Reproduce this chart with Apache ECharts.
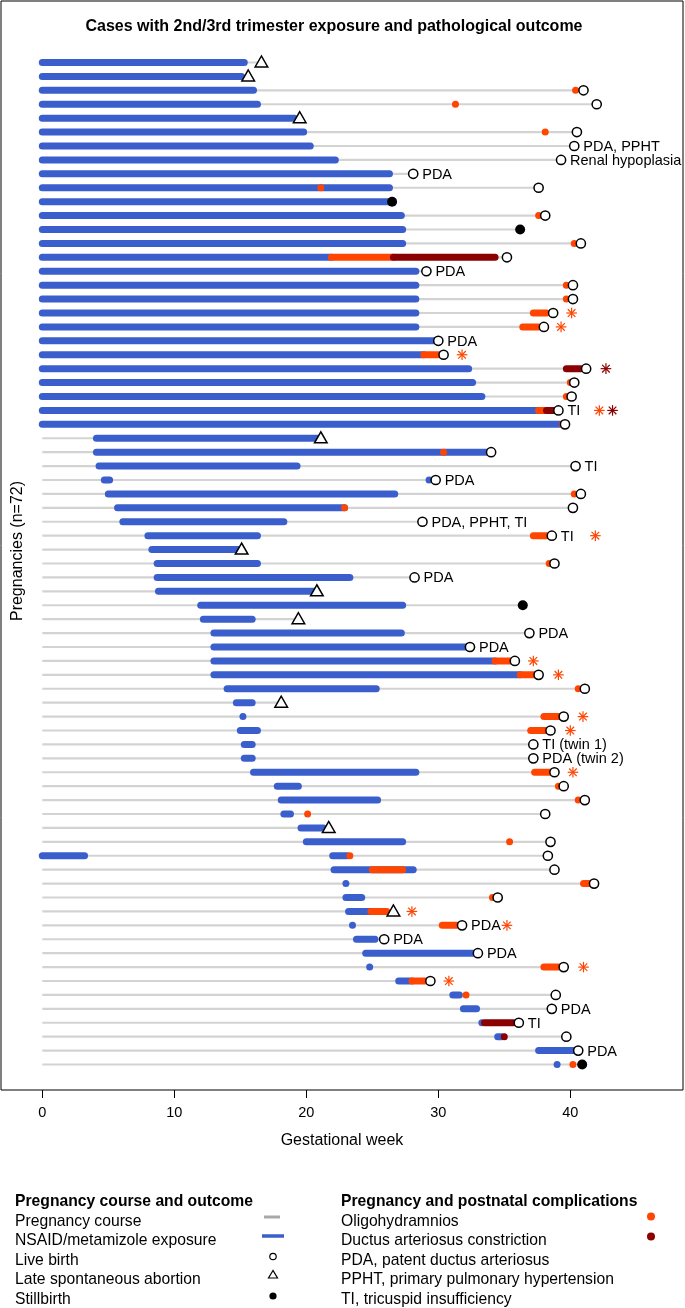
<!DOCTYPE html>
<html>
<head>
<meta charset="utf-8">
<script src="https://cdn.jsdelivr.net/npm/echarts@6/dist/echarts.min.js"></script>
<style>
html,body{margin:0;padding:0;background:#fff;}
#c{width:685px;height:1308px;}
</style>
</head>
<body>
<div id="c"></div>
<script>
// ---- Data (row index 1..73, gestational weeks) ----
const xTicks = [0, 10, 20, 30, 40];
// outcome: [row, week, type]  type: L = live birth, A = late spontaneous abortion, S = stillbirth
const outcomes = [
[1,16.6,'A'],[2,15.6,'A'],[3,41.0,'L'],[4,42.0,'L'],[5,19.5,'A'],[6,40.5,'L'],[7,40.3,'L'],[8,39.3,'L'],[9,28.1,'L'],[10,37.6,'L'],
[11,26.5,'S'],[12,38.1,'L'],[13,36.2,'S'],[14,40.8,'L'],[15,35.2,'L'],[16,29.1,'L'],[17,40.2,'L'],[18,40.2,'L'],[19,38.7,'L'],[20,38.0,'L'],
[21,30.0,'L'],[22,30.4,'L'],[23,41.2,'L'],[24,40.3,'L'],[25,40.1,'L'],[26,39.1,'L'],[27,39.6,'L'],[28,21.1,'A'],[29,34.0,'L'],[30,40.4,'L'],
[31,29.8,'L'],[32,40.8,'L'],[33,40.2,'L'],[34,28.8,'L'],[35,38.6,'L'],[36,15.1,'A'],[37,38.8,'L'],[38,28.2,'L'],[39,20.8,'A'],[40,36.4,'S'],
[41,19.4,'A'],[42,36.9,'L'],[43,32.4,'L'],[44,35.8,'L'],[45,37.6,'L'],[46,41.1,'L'],[47,18.1,'A'],[48,39.5,'L'],[49,38.5,'L'],[50,37.2,'L'],
[51,37.2,'L'],[52,38.8,'L'],[53,39.5,'L'],[54,41.1,'L'],[55,38.1,'L'],[56,21.7,'A'],[57,38.5,'L'],[58,38.3,'L'],[59,38.8,'L'],[60,41.8,'L'],
[61,34.5,'L'],[62,26.6,'A'],[63,31.8,'L'],[64,25.9,'L'],[65,33.0,'L'],[66,39.5,'L'],[67,29.4,'L'],[68,38.9,'L'],[69,38.6,'L'],[70,36.1,'L'],
[71,39.7,'L'],[72,40.6,'L'],[73,40.9,'S']
];
// NSAID/metamizole exposure: [row, start, end]
const exposure = [
[1,0,15.3],[2,0,15.1],[3,0,16.0],[4,0,16.3],[5,0,19.1],[6,0,19.8],[7,0,20.3],[8,0,22.2],[9,0,26.3],[10,0,26.3],
[11,0,26.4],[12,0,27.2],[13,0,27.3],[14,0,27.3],[15,0,21.9],[16,0,28.3],[17,0,28.3],[18,0,28.3],[19,0,28.3],[20,0,28.3],
[21,0,29.7],[22,0,28.9],[23,0,32.3],[24,0,32.6],[25,0,33.3],[26,0,37.6],[27,0,39.4],[28,4.1,21.1],[29,4.1,33.9],[30,4.3,19.3],
[31,4.7,5.1],[31,29.3,29.3],[32,5.0,26.7],[33,5.7,22.9],[34,6.1,18.3],[35,8.0,16.3],[36,8.3,15.0],[37,8.7,16.3],[38,8.7,23.3],[39,8.8,20.8],
[40,12.0,27.3],[41,12.2,15.9],[42,13.0,27.2],[43,13.0,32.3],[44,13.0,34.3],[45,13.0,36.2],[46,14.0,25.3],[47,14.7,15.9],[48,15.2,15.2],[49,15.0,16.3],
[50,15.3,15.9],[51,15.3,15.9],[52,16.0,28.3],[53,17.8,19.4],[54,18.1,25.4],[55,18.3,18.8],[56,19.6,21.3],[57,20.0,27.3],[58,0,3.2],[58,22.0,23.1],
[59,22.1,28.1],[60,23.0,23.0],[61,23.0,24.2],[62,23.2,24.9],[63,23.5,23.5],[64,23.8,25.2],[65,24.5,32.9],[66,24.8,24.8],[67,27.0,28.0],[68,31.1,31.6],
[69,31.9,32.9],[70,33.3,33.3],[71,34.5,34.8],[72,37.6,40.3],[73,39.0,39.0]
];
// Oligohydramnios: [row, start, end]
const oligo = [
[3,40.4,40.4],[4,31.3,31.3],[6,38.1,38.1],[10,21.1,21.1],[12,37.6,37.6],[14,40.3,40.3],[15,21.9,26.6],[17,39.7,39.7],[18,39.7,39.7],[19,37.2,38.2],
[20,36.4,37.6],[22,28.9,30.1],[24,40.0,40.0],[25,39.7,39.7],[26,37.6,38.2],[27,39.4,39.4],[29,30.4,30.4],[32,40.3,40.3],[33,22.9,22.9],[35,37.2,38.2],
[37,38.4,38.4],[44,34.3,35.5],[45,36.2,37.4],[46,40.6,40.6],[48,38.0,39.2],[49,37.0,38.2],[52,37.3,38.5],[53,39.1,39.1],[54,40.6,40.6],[55,20.1,20.1],
[57,35.4,35.4],[58,23.3,23.3],[59,25.0,27.3],[60,41.0,41.4],[61,34.1,34.1],[62,24.9,26.1],[63,30.3,31.4],[66,38.0,39.1],[67,28.0,29.0],[68,32.1,32.1],
[73,40.2,40.2]
];
// Ductus arteriosus constriction: [row, start, end]
const ductus = [
[15,26.6,34.3],[23,39.7,40.8],[26,38.2,38.9],[70,33.5,35.7],[71,35.0,35.0]
];
// Asterisks (oligohydramnios / ductus constriction markers): [row, week]
const oligoStars = [
[19,40.1],[20,39.3],[22,31.8],[26,42.2],[35,41.9],[44,37.2],[45,39.1],[48,40.96],[49,40.0],[52,40.2],[62,28.0],[63,35.2],[66,41.0],[67,30.8]
];
const ductusStars = [[23,42.7],[26,43.2]];
// Notes: [row, text]
const notes = [
[7,'PDA, PPHT'],[8,'Renal hypoplasia'],[9,'PDA'],[16,'PDA'],[21,'PDA'],[26,'TI'],[30,'TI'],[31,'PDA'],[34,'PDA, PPHT, TI'],[35,'TI'],
[38,'PDA'],[42,'PDA'],[43,'PDA'],[50,'TI (twin 1)'],[51,'PDA (twin 2)'],[63,'PDA'],[64,'PDA'],[65,'PDA'],[69,'PDA'],[70,'TI'],[72,'PDA']
];
const legendLeft = ['Pregnancy course','NSAID/metamizole exposure','Live birth','Late spontaneous abortion','Stillbirth'];
const legendRight = ['Oligohydramnios','Ductus arteriosus constriction','PDA, patent ductus arteriosus','PPHT, primary pulmonary hypertension','TI, tricuspid insufficiency'];

// ---- Styles ----
const C_BLUE = '#3A5FCD', C_ORANGE = '#FF4500', C_DRED = '#8B0000', C_GREY = '#D3D3D3';
const FONT = 'Liberation Sans, Arial, Helvetica, sans-serif';
const NROW = 73;
const LF = '15.7px ';

const outcomeWeek = {};
outcomes.forEach(o => { outcomeWeek[o[0]] = o[1]; });
const course = outcomes.map(o => [o[0], 0, o[1]]);
const noteData = notes.map(n => [n[0], outcomeWeek[n[0]], n[1]]);

function segRender(color, width, cap) {
  return function (params, api) {
    const r = api.value(0), s = api.value(1), e = api.value(2);
    const p1 = api.coord([s, r]), p2 = api.coord([e, r]);
    if (e - s < 0.05) {
      return { type: 'circle', shape: { cx: p1[0], cy: p1[1], r: width / 2 }, style: { fill: color } };
    }
    return { type: 'line', shape: { x1: p1[0], y1: p1[1], x2: p2[0], y2: p2[1] },
      style: { stroke: color, lineWidth: width, lineCap: cap } };
  };
}
function outcomeRender(params, api) {
  const p = api.coord([api.value(1), api.value(0)]);
  const t = outcomes[params.dataIndex][2];
  if (t === 'L') return { type: 'circle', shape: { cx: p[0], cy: p[1], r: 4.6 }, style: { fill: '#fff', stroke: '#000', lineWidth: 1.5 } };
  if (t === 'S') return { type: 'circle', shape: { cx: p[0], cy: p[1], r: 5 }, style: { fill: '#000' } };
  return { type: 'polygon', shape: { points: [[p[0], p[1] - 6.5], [p[0] - 6.3, p[1] + 4.5], [p[0] + 6.3, p[1] + 4.5]] },
    style: { fill: '#fff', stroke: '#000', lineWidth: 1.5 } };
}
function starRender(color) {
  return function (params, api) {
    const p = api.coord([api.value(1), api.value(0)]);
    const a = 5.3, d = 3.8;
    const lines = [[0, -a, 0, a], [-a, 0, a, 0], [-d, -d, d, d], [-d, d, d, -d]];
    return { type: 'group', children: lines.map(l => ({ type: 'line',
      shape: { x1: p[0] + l[0], y1: p[1] + l[1], x2: p[0] + l[2], y2: p[1] + l[3] },
      style: { stroke: color, lineWidth: 1.2 } })) };
  };
}
function noteRender(params, api) {
  const p = api.coord([api.value(1), api.value(0)]);
  return { type: 'text', x: p[0] + 9, y: p[1] + 1,
    style: { text: noteData[params.dataIndex][2], fill: '#000', font: '14.5px ' + FONT, align: 'left', verticalAlign: 'middle' } };
}

// ---- Frame, titles and legend graphics ----
const g = [];
g.push({ type: 'rect', shape: { x: 1, y: 1, width: 682, height: 1089 }, style: { fill: 'none', stroke: '#000', lineWidth: 1 }, z: 10 });
g.push({ type: 'text', x: 334, y: 27, style: { text: 'Cases with 2nd/3rd trimester exposure and pathological outcome', font: 'bold 16px ' + FONT, fill: '#000', align: 'center', verticalAlign: 'middle' } });
g.push({ type: 'text', x: 18, y: 551, rotation: Math.PI / 2, style: { text: 'Pregnancies (n=72)', font: '16px ' + FONT, fill: '#000', align: 'center', verticalAlign: 'middle' } });
g.push({ type: 'text', x: 342, y: 1141, style: { text: 'Gestational week', font: '16px ' + FONT, fill: '#000', align: 'center', verticalAlign: 'middle' } });
const legY = [1221.5, 1241, 1260.5, 1280, 1299.5];
g.push({ type: 'text', x: 15, y: 1202, style: { text: 'Pregnancy course and outcome', font: 'bold ' + LF + FONT, fill: '#000', verticalAlign: 'middle' } });
g.push({ type: 'text', x: 341, y: 1202, style: { text: 'Pregnancy and postnatal complications', font: 'bold ' + LF + FONT, fill: '#000', verticalAlign: 'middle' } });
legendLeft.forEach((t, i) => g.push({ type: 'text', x: 15, y: legY[i], style: { text: t, font: LF + FONT, fill: '#000', verticalAlign: 'middle' } }));
legendRight.forEach((t, i) => g.push({ type: 'text', x: 341, y: legY[i], style: { text: t, font: LF + FONT, fill: '#000', verticalAlign: 'middle' } }));
g.push({ type: 'line', shape: { x1: 264, y1: 1217, x2: 280, y2: 1217 }, style: { stroke: '#A9A9A9', lineWidth: 3 } });
g.push({ type: 'line', shape: { x1: 262, y1: 1236, x2: 284, y2: 1236 }, style: { stroke: C_BLUE, lineWidth: 3.5 } });
g.push({ type: 'circle', shape: { cx: 273, cy: 1256.5, r: 3.2 }, style: { fill: '#fff', stroke: '#000', lineWidth: 1.2 } });
g.push({ type: 'polygon', shape: { points: [[273, 1270.5], [268.5, 1278], [277.5, 1278]] }, style: { fill: '#fff', stroke: '#000', lineWidth: 1.2 } });
g.push({ type: 'circle', shape: { cx: 273, cy: 1296, r: 3.6 }, style: { fill: '#000' } });
g.push({ type: 'circle', shape: { cx: 651, cy: 1216.5, r: 4 }, style: { fill: C_ORANGE } });
g.push({ type: 'circle', shape: { cx: 651, cy: 1236.5, r: 4 }, style: { fill: C_DRED } });

const chart = echarts.init(document.getElementById('c'), null, { renderer: 'canvas' });
const rowH = 13.917;
chart.setOption({
  animation: false,
  backgroundColor: '#fff',
  grid: { left: 42.3, width: 40 * 13.2, top: 62.5 - rowH / 2, height: NROW * rowH },
  xAxis: {
    type: 'value', min: xTicks[0], max: xTicks[xTicks.length - 1], interval: 10, offset: 1090 - (62.5 - rowH / 2 + NROW * rowH),
    axisLine: { show: false }, splitLine: { show: false },
    axisTick: { show: true, length: 8, lineStyle: { color: '#000', width: 1 } },
    axisLabel: { color: '#000', fontSize: 14.5, fontFamily: FONT, margin: 15 }
  },
  yAxis: { type: 'value', min: 0.5, max: NROW + 0.5, inverse: true, show: false },
  graphic: g,
  series: [
    { type: 'custom', clip: false, data: course, encode: { x: [1, 2], y: 0 }, renderItem: segRender(C_GREY, 2.2, 'butt'), z: 1 },
    { type: 'custom', clip: false, data: exposure, encode: { x: [1, 2], y: 0 }, renderItem: segRender(C_BLUE, 7, 'round'), z: 2 },
    { type: 'custom', clip: false, data: oligo, encode: { x: [1, 2], y: 0 }, renderItem: segRender(C_ORANGE, 7, 'round'), z: 3 },
    { type: 'custom', clip: false, data: ductus, encode: { x: [1, 2], y: 0 }, renderItem: segRender(C_DRED, 7, 'round'), z: 4 },
    { type: 'custom', clip: false, data: outcomes.map(o => [o[0], o[1]]), encode: { x: 1, y: 0 }, renderItem: outcomeRender, z: 5 },
    { type: 'custom', clip: false, data: oligoStars, encode: { x: 1, y: 0 }, renderItem: starRender(C_ORANGE), z: 5 },
    { type: 'custom', clip: false, data: ductusStars, encode: { x: 1, y: 0 }, renderItem: starRender(C_DRED), z: 5 },
    { type: 'custom', clip: false, data: noteData.map(n => [n[0], n[1]]), encode: { x: 1, y: 0 }, renderItem: noteRender, z: 6 }
  ]
});
</script>
</body>
</html>
